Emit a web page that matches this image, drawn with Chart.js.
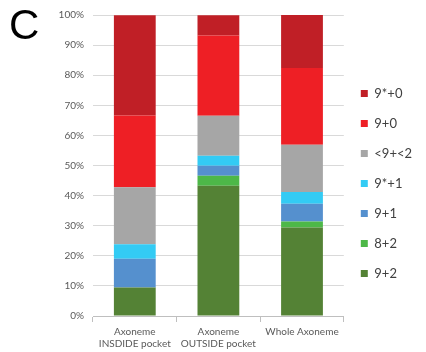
<!DOCTYPE html>
<html>
<head>
<meta charset="utf-8">
<script src="https://cdn.jsdelivr.net/npm/chart.js@4/dist/chart.umd.min.js"></script>
<style>
  html, body { margin: 0; padding: 0; background: #fff; }
  #wrap { position: relative; width: 426px; height: 352px; }
  #panel { position: absolute; left: 9px; top: 4px; font: 42px "Liberation Sans", Arial, sans-serif; line-height: 1; color: #000; }
  canvas { position: absolute; left: 0; top: 0; }
</style>
</head>
<body>
<div id="wrap">
  <canvas id="c" width="426" height="352"></canvas>
  <div id="panel">C</div>
</div>
<script>
// Axoneme categories (two-line labels)
const categories = [
  ['Axoneme', 'INSDIDE pocket'],
  ['Axoneme', 'OUTSIDE pocket'],
  ['Whole Axoneme']
];

// Percentage of axonemes per configuration, in stacking order (bottom to top)
const seriesNames = ['9+2', '8+2', '9+1', '9*+1', '<9+<2', '9+0', '9*+0'];
const v_9p2   = [9.5, 43.3, 29.4];
const v_8p2   = [0.0, 3.3, 2.0];
const v_9p1   = [9.5, 3.3, 5.9];
const v_9sp1  = [4.8, 3.3, 3.9];
const v_lt9   = [19.0, 13.3, 15.7];
const v_9p0   = [23.8, 26.7, 25.5];
const v_9sp0  = [33.3, 6.7, 17.6];
const seriesValues = [v_9p2, v_8p2, v_9p1, v_9sp1, v_lt9, v_9p0, v_9sp0];
const seriesColors = ['#548235', '#4DB848', '#5590CE', '#33CBF4', '#A6A6A6', '#EE1F25', '#C01F26'];

const yTicks = [0, 10, 20, 30, 40, 50, 60, 70, 80, 90, 100];

const FONT = 'Lato, "Liberation Sans", sans-serif';

new Chart(document.getElementById('c'), {
  type: 'bar',
  data: {
    labels: categories,
    datasets: seriesNames.map((name, i) => ({
      label: name,
      data: seriesValues[i],
      backgroundColor: seriesColors[i],
      borderWidth: 0,
      categoryPercentage: 1,
      barPercentage: 0.5
    }))
  },
  options: {
    responsive: false,
    animation: false,
    layout: { padding: { left: 5, top: 15, right: 4, bottom: 0 } },
    plugins: {
      tooltip: { enabled: false },
      legend: {
        position: 'right',
        reverse: true,
        labels: {
          boxWidth: 7,
          boxHeight: 7,
          padding: 17,
          color: '#404040',
          font: { family: FONT, size: 13 }
        }
      }
    },
    scales: {
      x: {
        stacked: true,
        grid: { display: true, offset: true, drawOnChartArea: false, tickLength: 6, color: '#BFBFBF' },
        border: { display: true, color: '#BFBFBF' },
        ticks: { color: '#595959', font: { family: FONT, size: 10, lineHeight: 1.2 }, padding: 4, maxRotation: 0, autoSkip: false },
        afterFit: (s) => { s.height = 36; }
      },
      y: {
        stacked: true,
        min: 0,
        max: 100,
        afterBuildTicks: (s) => { s.ticks = yTicks.map(v => ({ value: v })); },
        grid: { color: '#D9D9D9', drawTicks: false },
        border: { display: false },
        ticks: { color: '#595959', font: { family: FONT, size: 10 }, padding: 9, callback: (v) => v + '%' },
        afterFit: (s) => { s.width = 88; }
      }
    }
  }
});
</script>
</body>
</html>
